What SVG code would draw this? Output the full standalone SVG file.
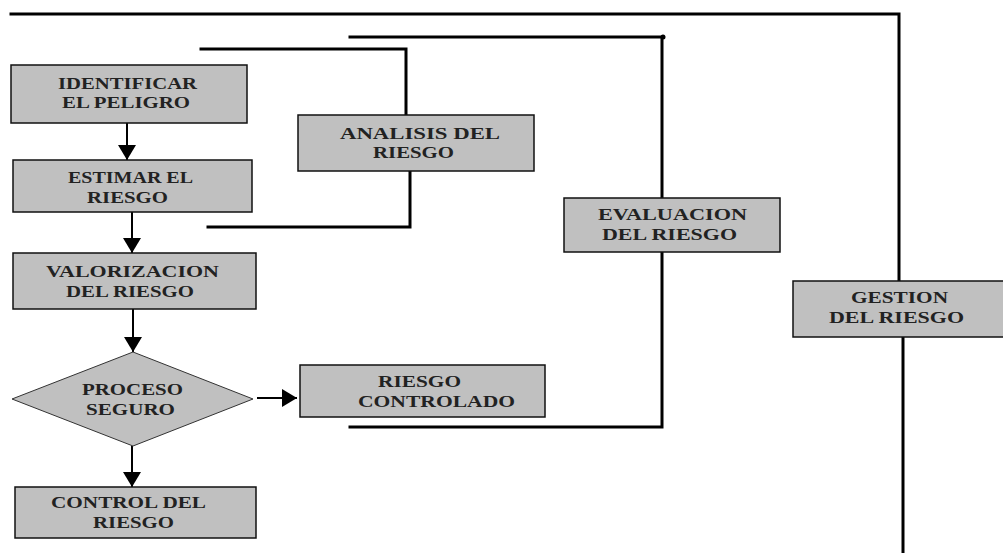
<svg xmlns="http://www.w3.org/2000/svg" width="1003" height="553" viewBox="0 0 1003 553">
<defs>
<style>
.box{fill:#c0c0c0;stroke:#111;stroke-width:1.5}
.dia{fill:#c0c0c0;stroke:#333;stroke-width:1}
.t{font-family:"Liberation Serif","Times New Roman",serif;font-weight:bold;font-size:17.5px;fill:#222}
.bar{fill:none;stroke:#000;stroke-width:3;stroke-linecap:square}
.arr{stroke:#000;stroke-width:2;marker-end:url(#ah)}
</style>
<marker id="ah" markerUnits="userSpaceOnUse" markerWidth="15" markerHeight="18" refX="15" refY="9" orient="auto" viewBox="0 0 15 18">
<path d="M0,0 L15,9 L0,18 z" fill="#000"/>
</marker>
</defs>
<rect width="1003" height="553" fill="#fff"/>
<g id="connectors">
<polyline class="bar" points="11,14 899,14 899,281"/>
<line class="bar" x1="903" y1="337" x2="903" y2="553"/>
<polyline class="bar" points="350,37 662,37 662,198"/>
<polyline class="bar" points="662,252 662,427 350,427"/>
<circle cx="663" cy="37" r="2.5" fill="#000"/>
<polyline class="bar" points="201,49 406,49 406,115"/>
<polyline class="bar" points="410,171 410,227 208,227"/>
<line class="arr" x1="127" y1="123" x2="127" y2="160"/>
<line class="arr" x1="132" y1="212" x2="132" y2="253"/>
<line class="arr" x1="133" y1="309" x2="133" y2="352"/>
<line class="arr" x1="132" y1="446" x2="132" y2="487"/>
<line class="arr" x1="257" y1="398" x2="297" y2="398"/>
</g>
<g id="identificar">
<rect class="box" x="11" y="65" width="236" height="58"/>
<text class="t" x="58" y="89" textLength="139" lengthAdjust="spacingAndGlyphs">IDENTIFICAR</text>
<text class="t" x="62" y="108" textLength="128" lengthAdjust="spacingAndGlyphs">EL PELIGRO</text>
</g>
<g id="estimar">
<rect class="box" x="13" y="160" width="239" height="52"/>
<text class="t" x="68" y="183" textLength="125" lengthAdjust="spacingAndGlyphs">ESTIMAR EL</text>
<text class="t" x="87" y="203" textLength="81" lengthAdjust="spacingAndGlyphs">RIESGO</text>
</g>
<g id="analisis">
<rect class="box" x="298" y="115" width="236" height="56"/>
<text class="t" x="340" y="139" textLength="160" lengthAdjust="spacingAndGlyphs">ANALISIS DEL</text>
<text class="t" x="373" y="158" textLength="81" lengthAdjust="spacingAndGlyphs">RIESGO</text>
</g>
<g id="valorizacion">
<rect class="box" x="13" y="253" width="243" height="56"/>
<text class="t" x="46" y="277" textLength="173" lengthAdjust="spacingAndGlyphs">VALORIZACION</text>
<text class="t" x="66" y="297" textLength="128" lengthAdjust="spacingAndGlyphs">DEL RIESGO</text>
</g>
<g id="proceso">
<polygon class="dia" points="133,352 253,399 133,446 12,399"/>
<text class="t" x="82" y="395" textLength="101" lengthAdjust="spacingAndGlyphs">PROCESO</text>
<text class="t" x="86" y="415" textLength="89" lengthAdjust="spacingAndGlyphs">SEGURO</text>
</g>
<g id="control">
<rect class="box" x="15" y="487" width="241" height="51"/>
<text class="t" x="51" y="508" textLength="155" lengthAdjust="spacingAndGlyphs">CONTROL DEL</text>
<text class="t" x="93" y="528" textLength="81" lengthAdjust="spacingAndGlyphs">RIESGO</text>
</g>
<g id="controlado">
<rect class="box" x="300" y="365" width="245" height="52"/>
<text class="t" x="378" y="387" textLength="83" lengthAdjust="spacingAndGlyphs">RIESGO</text>
<text class="t" x="358" y="407" textLength="157" lengthAdjust="spacingAndGlyphs">CONTROLADO</text>
</g>
<g id="evaluacion">
<rect class="box" x="564" y="198" width="216" height="54"/>
<text class="t" x="598" y="220" textLength="149" lengthAdjust="spacingAndGlyphs">EVALUACION</text>
<text class="t" x="602" y="240" textLength="135" lengthAdjust="spacingAndGlyphs">DEL  RIESGO</text>
</g>
<g id="gestion">
<rect class="box" x="793" y="281" width="212" height="56"/>
<text class="t" x="851" y="303" textLength="97" lengthAdjust="spacingAndGlyphs">GESTION</text>
<text class="t" x="829" y="323" textLength="135" lengthAdjust="spacingAndGlyphs">DEL  RIESGO</text>
</g>
</svg>
